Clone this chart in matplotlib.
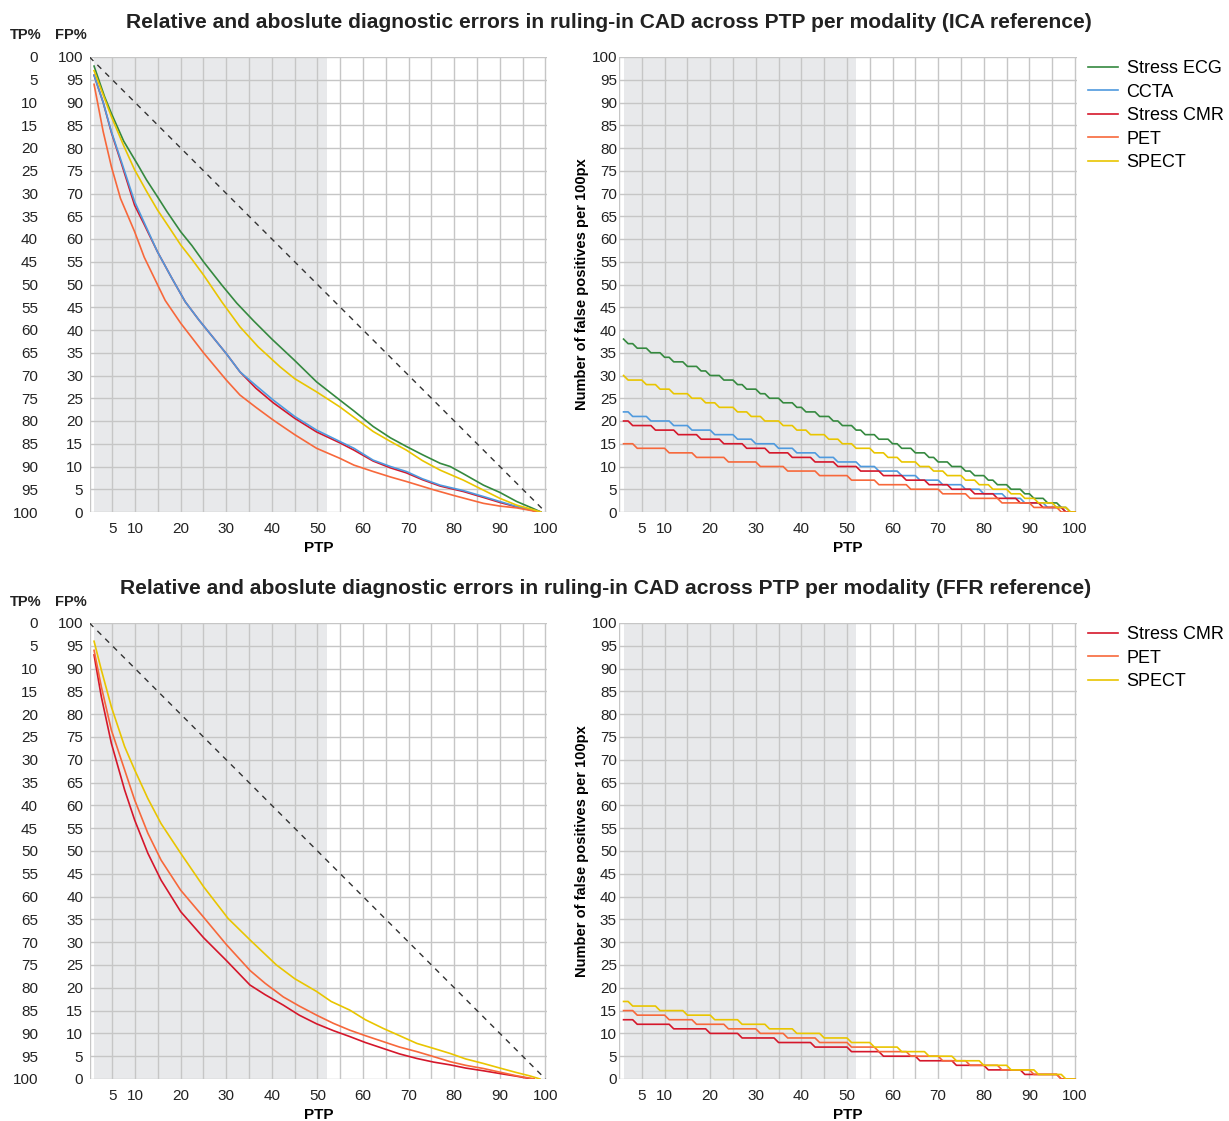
import numpy as np
import matplotlib
matplotlib.use("Agg")
import matplotlib.pyplot as plt
from matplotlib.ticker import FixedLocator

plt.rcParams['font.family'] = ['Liberation Sans', 'DejaVu Sans']

# ---------------- data ----------------
# Left panels: FP% (share of positive tests that are false) vs PTP, read at points
ica_ecg_x = [1, 3.3, 4.8, 7.5, 10.6, 12.5, 14.9, 17, 20, 22.5, 25, 29, 32.3, 36, 40, 45, 49.8, 54.9, 58, 62.2, 66, 69.5, 73, 76.9, 79.1, 82, 86.4, 90, 93.7, 97, 99]
ica_ecg_y = [98, 91.3, 87.6, 81.5, 76.3, 73, 69.3, 66, 61.6, 58.5, 55, 49.9, 45.9, 42, 38, 33.3, 28.6, 24.6, 22.2, 18.8, 16.3, 14.4, 12.6, 10.7, 10, 8.4, 5.9, 4.3, 2.3, 0.9, 0]

ica_ccta_x = [1, 3, 4.8, 7, 9.9, 12, 14.9, 18, 21, 24, 27, 30, 33, 36.5, 40.3, 45, 49.8, 54.9, 58, 62.2, 66, 69.5, 73, 76.9, 82, 86.4, 90, 93.7, 97, 99]
ica_ccta_y = [96, 90, 83.6, 77, 68.2, 63.6, 57.2, 51.5, 46.2, 42.2, 38.5, 34.8, 30.8, 27.8, 24.6, 21, 18, 15.5, 14, 11.4, 10, 8.9, 7.3, 5.9, 4.7, 3.4, 2.3, 1.2, 0.5, 0]

ica_cmr_x = [1, 3, 4.8, 7, 9.9, 12, 14.9, 18, 21, 24, 27, 30, 33, 36.5, 40.3, 45, 49.8, 54.9, 58, 62.2, 66, 69.5, 73, 76.9, 82, 86.4, 90, 93.7, 97, 99]
ica_cmr_y = [96, 90, 83.4, 76.6, 67.4, 63.2, 57.2, 51.5, 46.2, 42.2, 38.5, 34.8, 30.8, 27.2, 24.0, 20.6, 17.6, 15.2, 13.6, 11.2, 9.7, 8.6, 7.1, 5.7, 4.5, 3.2, 2.1, 1.1, 0.4, 0]

ica_pet_x = [1, 3, 4.8, 6.8, 9.9, 12, 14.9, 16.6, 20, 25, 30, 33, 36.5, 40.3, 45, 49.8, 54.9, 58, 62.2, 66, 69.5, 75.4, 80, 86.4, 90, 93.7, 97, 98]
ica_pet_y = [94, 83.6, 75.9, 68.9, 61.6, 56, 50, 46.5, 41.5, 35, 29, 25.7, 23, 20.2, 17, 14, 11.8, 10.3, 8.9, 7.7, 6.7, 4.9, 3.6, 1.9, 1.3, 0.9, 0.3, 0]

ica_spect_x = [1, 3, 4.8, 7.5, 9.9, 12.5, 14.9, 17.5, 20, 22.5, 25, 29, 33, 37, 41.8, 45, 49.8, 54.9, 58, 62.2, 66, 69.5, 73, 76.9, 82, 86.4, 90, 93.7, 97, 99]
ica_spect_y = [97, 91.7, 86.9, 80.5, 75.2, 70.5, 66.4, 62.5, 58.7, 55.5, 52.1, 46.2, 40.7, 36.3, 31.9, 29.3, 26.4, 23.1, 20.8, 17.7, 15.5, 13.6, 11.3, 9.2, 7.0, 4.8, 3.0, 1.5, 0.6, 0]

ffr_cmr_x = [1, 2.6, 4.8, 7.7, 9.9, 12.8, 15.7, 20, 25, 30, 35.2, 38.5, 42.5, 46, 49.8, 53.5, 57.1, 60.5, 64.4, 68, 71.8, 75.5, 79.1, 82.5, 86.4, 90, 93.7, 96.5, 97.5]
ffr_cmr_y = [93, 83.8, 73.6, 63.4, 56.8, 49.5, 43.6, 36.7, 31, 26, 20.6, 18.5, 16.2, 14, 12.1, 10.6, 9.3, 8, 6.7, 5.5, 4.5, 3.7, 3.1, 2.4, 1.8, 1.2, 0.6, 0.1, 0]

ffr_pet_x = [1, 2.6, 4.8, 7.7, 9.9, 12.8, 15.7, 20, 25, 30, 35.2, 38.5, 42.5, 46, 49.8, 53.5, 57.1, 60.5, 64.4, 68, 71.8, 75.5, 79.1, 82.5, 86.4, 90, 93.7, 96.5, 97.5]
ffr_pet_y = [94, 86, 76.5, 67.8, 61.2, 53.9, 48, 41.4, 35.5, 29.5, 23.8, 21, 18, 16, 14, 12.2, 10.7, 9.5, 8.2, 7, 6, 4.9, 3.8, 3, 2.3, 1.5, 0.7, 0.2, 0]

ffr_spect_x = [1, 2.6, 4.8, 7.7, 9.9, 12.8, 15.7, 20, 25, 30.4, 35.2, 41, 45, 49.8, 53, 57.1, 60.5, 64.4, 68, 71.8, 75.5, 79.1, 82.5, 86.4, 90, 93.7, 96.5, 98.8]
ffr_spect_y = [96, 89.7, 81.6, 72.9, 67.8, 61.5, 56, 49.5, 42.2, 35.2, 30.5, 25, 22, 19.2, 17, 15.1, 13, 11.1, 9.5, 7.8, 6.7, 5.6, 4.4, 3.4, 2.4, 1.4, 0.7, 0]

# Right panels: number of false positives per 100 patients (integer steps).
# Start level at PTP=1 and the PTP values where the count drops by one.
ptp_int = np.arange(1, 101)
ica_ecg_fp_start, ica_ecg_fp_drops = 38, [2, 4, 7, 10, 12, 15, 18, 20, 23, 26, 28, 31, 33, 36, 39, 41, 44, 47, 49, 52, 54, 57, 60, 62, 65, 68, 70, 73, 76, 78, 81, 83, 86, 89, 91, 94, 97, 99]
ica_ccta_fp_start, ica_ccta_fp_drops = 22, [3, 7, 12, 16, 21, 26, 30, 35, 39, 44, 48, 53, 57, 62, 66, 71, 76, 80, 85, 89, 94, 98]
ica_cmr_fp_start, ica_cmr_fp_drops = 20, [3, 8, 13, 18, 23, 28, 33, 38, 43, 48, 53, 58, 63, 68, 73, 78, 83, 88, 93, 98]
ica_pet_fp_start, ica_pet_fp_drops = 15, [4, 11, 17, 24, 31, 37, 44, 51, 57, 64, 71, 77, 84, 91, 97]
ica_spect_fp_start, ica_spect_fp_drops = 30, [2, 6, 9, 12, 16, 19, 22, 26, 29, 32, 36, 39, 42, 46, 49, 52, 56, 59, 62, 66, 69, 72, 76, 79, 82, 86, 89, 92, 96, 99]
ffr_cmr_fp_start, ffr_cmr_fp_drops = 13, [4, 12, 20, 27, 35, 43, 51, 58, 66, 74, 81, 89, 97]
ffr_pet_fp_start, ffr_pet_fp_drops = 15, [4, 11, 17, 24, 31, 37, 44, 51, 57, 64, 71, 77, 84, 91, 97]
ffr_spect_fp_start, ffr_spect_fp_drops = 17, [3, 9, 15, 21, 27, 33, 39, 45, 51, 56, 62, 68, 74, 80, 86, 92, 98]

x_major = [5, 10, 20, 30, 40, 50, 60, 70, 80, 90, 100]
x_minor = [0, 15, 25, 35, 45, 55, 65, 75, 85, 95]
y_ticks = list(range(0, 101, 5))

colors = {'Stress ECG': '#35893f', 'CCTA': '#4f9ade', 'Stress CMR': '#d5172b',
          'PET': '#f7683b', 'SPECT': '#e9c500'}

title_ica = "Relative and aboslute diagnostic errors in ruling-in CAD across PTP per modality (ICA reference)"
title_ffr = "Relative and aboslute diagnostic errors in ruling-in CAD across PTP per modality (FFR reference)"


def steps(start, drops):
    return start - np.searchsorted(np.array(drops), ptp_int, side='right')


W, H = 1229, 1121
fig = plt.figure(figsize=(W / 100, H / 100), dpi=100)


def px_axes(left, top, bottom):
    return fig.add_axes([left / W, (H - bottom) / H, 457.8 / W, (bottom - top) / H])


def style(ax, ypad):
    ax.set_xlim(0, 100.4)
    ax.set_ylim(0, 100)
    ax.axvspan(1, 52, color='#e8e9eb', zorder=0.2, lw=0)
    ax.xaxis.set_major_locator(FixedLocator(x_major))
    ax.xaxis.set_minor_locator(FixedLocator(x_minor))
    ax.set_yticks(y_ticks)
    ax.set_axisbelow(True)
    ax.grid(True, which='both', color='#c6c6c6', lw=1.0, zorder=0.5)
    for s in ax.spines.values():
        s.set_visible(False)
    ax.tick_params(which='both', length=0, labelsize=11, colors='#222222')
    ax.tick_params(axis='y', pad=ypad)
    ax.tick_params(axis='x', pad=7)
    ax.set_xlabel('PTP', fontsize=11, weight='bold', labelpad=3.5)


def left_panel(ax, series):
    style(ax, 4.5)
    ax.plot([0, 100], [100, 0], color='#333333', lw=1.0, ls=(0, (4, 4)), zorder=3)
    for name, xs, ys in series:
        ax.plot(xs, ys, color=colors[name], lw=1.2, zorder=4)
    sec = ax.secondary_yaxis(-0.1125, functions=(lambda y: 100 - y, lambda y: 100 - y))
    sec.set_yticks(y_ticks)
    sec.spines['left'].set_visible(False)
    sec.tick_params(length=0, pad=0, labelsize=11, colors='#222222')


def right_panel(ax, series):
    style(ax, 1.5)
    for name, start, drops in series:
        ax.plot(ptp_int, steps(start, drops), color=colors[name], lw=1.2, zorder=4, label=name)
    ax.set_ylabel('Number of false positives per 100px', fontsize=10.5, weight='bold', labelpad=2)
    ax.legend(loc='upper left', bbox_to_anchor=(1.012, 1.005), frameon=False, fontsize=13,
              handlelength=1.65, handletextpad=0.5, labelspacing=0.36, borderaxespad=0, borderpad=0.3)


ax_tl = px_axes(89.5, 57, 512)
ax_tr = px_axes(619, 57, 512)
ax_bl = px_axes(89.5, 623, 1079)
ax_br = px_axes(619, 623, 1079)

left_panel(ax_tl, [('Stress ECG', ica_ecg_x, ica_ecg_y), ('Stress CMR', ica_cmr_x, ica_cmr_y),
                   ('CCTA', ica_ccta_x, ica_ccta_y), ('PET', ica_pet_x, ica_pet_y),
                   ('SPECT', ica_spect_x, ica_spect_y)])
right_panel(ax_tr, [('Stress ECG', ica_ecg_fp_start, ica_ecg_fp_drops),
                    ('CCTA', ica_ccta_fp_start, ica_ccta_fp_drops),
                    ('Stress CMR', ica_cmr_fp_start, ica_cmr_fp_drops),
                    ('PET', ica_pet_fp_start, ica_pet_fp_drops),
                    ('SPECT', ica_spect_fp_start, ica_spect_fp_drops)])
left_panel(ax_bl, [('Stress CMR', ffr_cmr_x, ffr_cmr_y), ('PET', ffr_pet_x, ffr_pet_y),
                   ('SPECT', ffr_spect_x, ffr_spect_y)])
right_panel(ax_br, [('Stress CMR', ffr_cmr_fp_start, ffr_cmr_fp_drops),
                    ('PET', ffr_pet_fp_start, ffr_pet_fp_drops),
                    ('SPECT', ffr_spect_fp_start, ffr_spect_fp_drops)])

fig.text(609 / W, 1 - 22 / H, title_ica, ha='center', va='center', fontsize=15.1, weight='bold', color='#222222')
fig.text(606 / W, 1 - 589 / H, title_ffr, ha='center', va='center', fontsize=15.1, weight='bold', color='#222222')
for ytop in (35, 602):
    fig.text(26 / W, 1 - ytop / H, 'TP%', ha='center', va='center', fontsize=10.5, weight='bold', color='#222222')
    fig.text(71 / W, 1 - ytop / H, 'FP%', ha='center', va='center', fontsize=10.5, weight='bold', color='#222222')

fig.savefig('out.png', dpi=100)
